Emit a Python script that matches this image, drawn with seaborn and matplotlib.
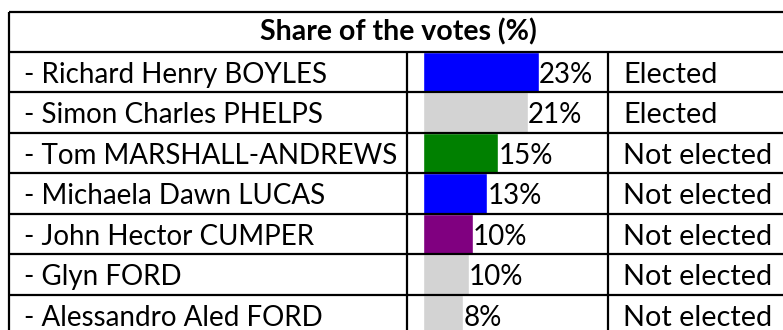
import matplotlib
matplotlib.use("Agg")
import matplotlib.pyplot as plt
import seaborn as sns
import pandas as pd

# ---- data ----
candidates = ["- Richard Henry BOYLES", "- Simon Charles PHELPS", "- Tom MARSHALL-ANDREWS",
              "- Michaela Dawn LUCAS", "- John Hector CUMPER", "- Glyn FORD",
              "- Alessandro Aled FORD"]
shares = [23.1, 20.9, 15.1, 12.9, 10.0, 9.2, 8.1]
share_labels = ["23%", "21%", "15%", "13%", "10%", "10%", "8%"]
status = ["Elected", "Elected", "Not elected", "Not elected", "Not elected",
          "Not elected", "Not elected"]
bar_colors = ["#0000FF", "#D3D3D3", "#008000", "#0000FF", "#800080", "#D3D3D3", "#D3D3D3"]
title = "Share of the votes (%)"

sns.set_theme(style="white")
plt.rcParams["font.family"] = ["Lato", "DejaVu Sans"]

W, H = 783, 330
fig = plt.figure(figsize=(W / 100, H / 100), dpi=100)

# layout in pixels
left_x, col2_x, col3_x, right_x = 9, 407, 608, 790
top_y, header_bot = 12, 52
row_h = 40.43
n = len(candidates)
bar_x0 = 422.5
px_per_pct = 5.03
fs = 20

# bar axes
ax_bar = fig.add_axes([bar_x0 / W, (H - (header_bot + n * row_h)) / H,
                       (col3_x - bar_x0) / W, n * row_h / H])
df = pd.DataFrame({"name": candidates, "share": shares})
sns.barplot(data=df, x="share", y="name", hue="name", palette=bar_colors,
            orient="h", width=1.0, legend=False, ax=ax_bar, saturation=1)
ax_bar.set_xlim(0, (col3_x - bar_x0) / px_per_pct)
ax_bar.set_ylim(n - 0.5, -0.5)
patches = sorted(ax_bar.patches, key=lambda p: p.get_y())
for p, lab in zip(patches, share_labels):
    ax_bar.annotate(lab, xy=(p.get_width(), p.get_y() + p.get_height() / 2),
                    xytext=(0, -7.8), textcoords="offset points",
                    ha="left", va="baseline", fontsize=fs, color="black",
                    annotation_clip=False)
ax_bar.axis("off")

# table overlay
ax = fig.add_axes([0, 0, 1, 1], facecolor="none")
ax.set_xlim(0, W)
ax.set_ylim(H, 0)
ax.axis("off")
lw = 1.6
ax.hlines([top_y], left_x, right_x, color="black", lw=lw)
row_edges = [header_bot + i * row_h for i in range(n + 1)]
ax.hlines(row_edges, left_x, right_x, color="black", lw=lw)
ax.vlines([left_x], top_y, H + 10, color="black", lw=lw)
ax.vlines([col2_x, col3_x], header_bot, H + 10, color="black", lw=lw)

ax.text(398, 40, title, ha="center", va="baseline",
        fontsize=20.5, fontweight="bold", color="black")
for i, (nm, st) in enumerate(zip(candidates, status)):
    base = header_bot + i * row_h + 31
    ax.text(24, base, nm, ha="left", va="baseline", fontsize=fs, color="black")
    ax.text(623, base, st, ha="left", va="baseline", fontsize=20.8, color="black")

fig.savefig("out.png", dpi=100)
